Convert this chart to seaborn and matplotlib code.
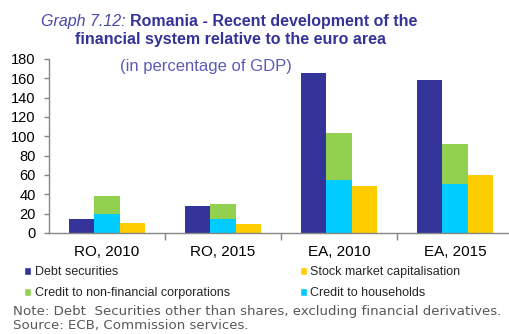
import matplotlib
matplotlib.use("Agg")
import matplotlib.pyplot as plt
import seaborn as sns
import pandas as pd
from matplotlib.patches import Patch

# Values in percentage of GDP
categories = ["RO, 2010", "RO, 2015", "EA, 2010", "EA, 2015"]
debt_securities = [15, 27.5, 166, 158]
credit_nfc = [38, 30, 103.5, 92]
credit_households = [19.5, 15, 55, 51]
stock_market_cap = [10, 9, 48.5, 60.5]

DEBT = "Debt securities"
NFC = "Credit to non-financial corporations"
STOCK = "Stock market capitalisation"
HH = "Credit to households"

palette = {DEBT: "#333399", NFC: "#92D050", STOCK: "#FFCC00", HH: "#00CCFF"}

sns.set_theme(style="white")
plt.rcParams["font.family"] = ["Liberation Sans", "DejaVu Sans"]

def frame(name, values):
    return pd.DataFrame({"category": categories, "series": name, "value": values})

df_main = pd.concat([frame(DEBT, debt_securities), frame(NFC, credit_nfc),
                     frame(STOCK, stock_market_cap)], ignore_index=True)
df_hh = frame(HH, credit_households)

fig = plt.figure(figsize=(5.1, 3.34), dpi=100)
ax = fig.add_axes([49 / 510, 1 - 233 / 334, 464 / 510, 174 / 334])

sns.barplot(data=df_main, x="category", y="value", hue="series",
            order=categories, hue_order=[DEBT, NFC, STOCK], palette=palette,
            width=0.65, dodge=True, saturation=1, linewidth=0, errorbar=None,
            legend=False, ax=ax)
# households credit sits in front of the corporate credit bar (middle slot)
sns.barplot(data=df_hh, x="category", y="value", hue="series",
            order=categories, hue_order=[DEBT, HH, STOCK], palette=palette,
            width=0.65, dodge=True, saturation=1, linewidth=0, errorbar=None,
            legend=False, ax=ax)

spine_col = "#868686"
ax.set_xlim(-0.5, 3.5)
ax.set_ylim(0, 180)
ax.set_yticks(range(0, 181, 20))
ax.set_xlabel("")
ax.set_ylabel("")
for s in ["top", "right"]:
    ax.spines[s].set_visible(False)
for s in ["left", "bottom"]:
    ax.spines[s].set_color(spine_col)
    ax.spines[s].set_linewidth(1.0)
ax.tick_params(axis="y", left=True, length=3.5, width=1, color=spine_col,
               labelsize=10.5, pad=6, labelcolor="black")
ax.tick_params(axis="x", which="major", length=0, labelsize=11, pad=9,
               labelcolor="black")
ax.set_xticks([0.5, 1.5, 2.5], minor=True)
ax.tick_params(axis="x", which="minor", bottom=True, length=5, width=1,
               color=spine_col)

# Title: italic graph number followed by bold heading
title_col = "#333399"
renderer = fig.canvas.get_renderer()
t1 = fig.text(41 / 510, 1 - 26 / 334, "Graph 7.12: ", fontsize=11.5,
              style="italic", color="#4a4aa8", va="baseline", ha="left")
bb = t1.get_window_extent(renderer=renderer)
fig.text(bb.x1 / fig.bbox.width, 1 - 26 / 334,
         "Romania - Recent development of the", fontsize=11.5,
         fontweight="bold", color=title_col, va="baseline", ha="left")
fig.text(231 / 510, 1 - 44 / 334, "financial system relative to the euro area",
         fontsize=11.5, fontweight="bold", color=title_col, va="baseline",
         ha="center")
fig.text(120 / 510, 1 - 67 / 334, "(in percentage of GDP)", fontsize=12,
         color="#5c5cb8", va="center", ha="left")

handles = [Patch(facecolor=palette[k], label=k) for k in [DEBT, NFC, STOCK, HH]]
fig.legend(handles=handles, ncol=2, loc="upper left",
           bbox_to_anchor=(24 / 510, 1 - 266 / 334), frameon=False,
           fontsize=9, handlelength=0.6, handleheight=0.6,
           handletextpad=0.25, columnspacing=5.6, labelspacing=0.75,
           borderaxespad=0, borderpad=0)

note_col = "#595959"
fig.text(13 / 510, 1 - 311 / 334,
         "Note: Debt  Securities other than shares, excluding financial derivatives.",
         fontsize=9.6, color=note_col, va="center", ha="left",
         family="DejaVu Sans")
fig.text(13 / 510, 1 - 326 / 334, "Source: ECB, Commission services.",
         fontsize=9.6, color=note_col, va="center", ha="left",
         family="DejaVu Sans")

fig.savefig("out.png", dpi=100)
